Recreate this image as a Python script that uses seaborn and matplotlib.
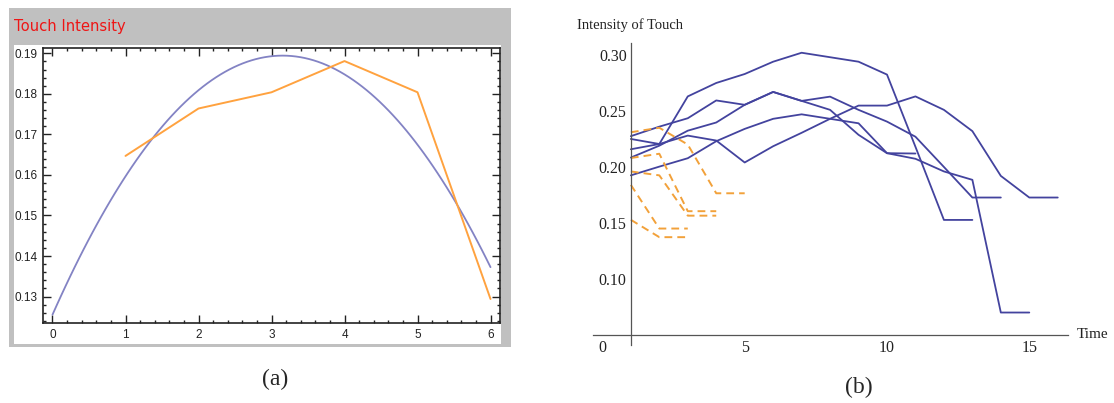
import numpy as np
import matplotlib
matplotlib.use("Agg")
import matplotlib.pyplot as plt
from matplotlib.patches import Rectangle
from matplotlib.ticker import MultipleLocator, FixedLocator, FormatStrFormatter
import seaborn as sns

# ---------------- data ----------------
# panel (a): averaged touch intensity per time step
a_time = [1, 2, 3, 4, 5, 6]
a_intensity = [0.1647, 0.1764, 0.1804, 0.1881, 0.1804, 0.1294]

# panel (b): individual touches (solid) – values at time 1, 2, 3, ...
blue_1 = [0.2084, 0.2190, 0.2324, 0.2397, 0.2555, 0.2670, 0.2590, 0.2510, 0.2287, 0.2123, 0.2120]
blue_2 = [0.2158, 0.2205, 0.2630, 0.2750, 0.2830, 0.2940, 0.3020, 0.2980, 0.2940, 0.2825, 0.2180,
          0.1527, 0.1527]
blue_3 = [0.2275, 0.2360, 0.2435, 0.2594, 0.2555, 0.2670, 0.2590, 0.2628, 0.2510, 0.2405, 0.2270,
          0.2000, 0.1727, 0.1727]
blue_4 = [0.1925, 0.2003, 0.2078, 0.2230, 0.2340, 0.2430, 0.2470, 0.2430, 0.2390, 0.2123, 0.2073,
          0.1960, 0.1885, 0.0700, 0.0700]
blue_5 = [0.2250, 0.2205, 0.2280, 0.2236, 0.2040, 0.2185, 0.2305, 0.2430, 0.2548, 0.2548, 0.2630,
          0.2510, 0.2320, 0.1920, 0.1727, 0.1727]
# panel (b): short touches (dashed)
orange_1 = [0.2310, 0.2350, 0.2200, 0.1765, 0.1765]
orange_2 = [0.2080, 0.2118, 0.1605, 0.1605]
orange_3 = [0.1960, 0.1925, 0.1565, 0.1565]
orange_4 = [0.1840, 0.1450, 0.1450]
orange_5 = [0.1528, 0.1373, 0.1373]

b_xticks = [0, 5, 10, 15]
b_yticks = [0.10, 0.15, 0.20, 0.25, 0.30]

# ---------------- style ----------------
sns.set_style("white")
plt.rcParams["font.family"] = ["DejaVu Sans"]

W, H = 1114, 403
fig = plt.figure(figsize=(W / 100, H / 100), dpi=100)


def fx(px):
    return px / W


def fy(py):
    return 1 - py / H


# ---------------- panel (a) ----------------
fig.patches.append(Rectangle((fx(8.9), fy(347)), fx(511) - fx(8.9), fy(8.3) - fy(347),
                             transform=fig.transFigure, facecolor="#c0c0c0",
                             edgecolor="none", zorder=-10))
fig.patches.append(Rectangle((fx(14.2), fy(344)), fx(500.7) - fx(14.2), fy(45) - fy(344),
                             transform=fig.transFigure, facecolor="white",
                             edgecolor="none", zorder=-9))

ax1 = fig.add_axes([fx(43.3), fy(323.3), fx(500) - fx(43.3), fy(47.7) - fy(323.3)])
ax1.set_xlim(0, 6)
sns.regplot(x=a_time, y=a_intensity, order=2, ci=None, scatter=False, truncate=False,
            ax=ax1, color="#8383C4", line_kws=dict(lw=1.3))
sns.lineplot(x=a_time, y=a_intensity, ax=ax1, color="#FFA23F", lw=1.4, estimator=None)
ax1.set_xlim(-0.126, 6.13)
ax1.set_ylim(0.1234, 0.1914)
ax1.xaxis.set_major_locator(MultipleLocator(1))
ax1.xaxis.set_minor_locator(MultipleLocator(0.2))
ax1.yaxis.set_major_locator(MultipleLocator(0.01))
ax1.yaxis.set_minor_locator(MultipleLocator(0.002))
ax1.yaxis.set_major_formatter(FormatStrFormatter("%.2f"))
ax1.tick_params(which="both", direction="in", top=True, right=True, bottom=True, left=True,
                color="#222222", width=1.0, labelsize=8.5, labelcolor="#222222")
ax1.tick_params(which="major", length=5.5, pad=4)
ax1.tick_params(which="minor", length=2.5)
for lab in ax1.get_xticklabels() + ax1.get_yticklabels():
    lab.set_family("Liberation Sans")
for sp in ax1.spines.values():
    sp.set_visible(True)
    sp.set_color("#222222")
    sp.set_linewidth(1.2)
ax1.set_xlabel("")
ax1.set_ylabel("")

fig.text(fx(14.3), fy(26), "Touch Intensity", color="#EE1515", fontsize=10.6,
         family="DejaVu Sans", ha="left", va="center")
fig.text(fx(275), fy(379), "(a)", fontsize=17, family="Liberation Serif",
         ha="center", va="center")

# ---------------- panel (b) ----------------
ax2 = fig.add_axes([fx(593), fy(345), fx(1068) - fx(593), fy(43) - fy(345)])
ax2.set_facecolor("none")
BLUE = "#43439E"
ORANGE = "#F2A13A"
for series in [blue_1, blue_2, blue_3, blue_4, blue_5]:
    t = np.arange(1, len(series) + 1)
    sns.lineplot(x=t, y=series, ax=ax2, color=BLUE, lw=1.3, estimator=None)
for series in [orange_1, orange_2, orange_3, orange_4, orange_5]:
    t = np.arange(1, len(series) + 1)
    sns.lineplot(x=t, y=series, ax=ax2, color=ORANGE, lw=1.4, estimator=None,
                 linestyle=(0, (4, 2.6)))

ax2.set_xlim(-0.33, 16.36)
ax2.set_ylim(0.041, 0.3107)
for s in ["top", "right"]:
    ax2.spines[s].set_visible(False)
ax2.spines["left"].set_position(("data", 1))
ax2.spines["bottom"].set_position(("data", 0.05))
for s in ["left", "bottom"]:
    ax2.spines[s].set_color("#555555")
    ax2.spines[s].set_linewidth(0.9)
ax2.xaxis.set_major_locator(FixedLocator(b_xticks))
ax2.xaxis.set_minor_locator(MultipleLocator(1))
ax2.yaxis.set_major_locator(FixedLocator(b_yticks))
ax2.yaxis.set_minor_locator(MultipleLocator(0.01))
ax2.yaxis.set_major_formatter(FormatStrFormatter("%.2f"))
ax2.tick_params(which="both", direction="in", color="#555555", width=0.8,
                labelsize=11.5, labelcolor="#222222")
ax2.tick_params(axis="y", which="major", length=5, pad=3)
ax2.tick_params(axis="y", which="minor", length=3)
ax2.tick_params(axis="x", which="major", length=4, pad=4)
ax2.tick_params(axis="x", which="minor", length=2.5)
for lab in ax2.get_xticklabels() + ax2.get_yticklabels():
    lab.set_family("Liberation Serif")
ax2.set_xlabel("")
ax2.set_ylabel("")

fig.text(fx(577), fy(25), "Intensity of Touch", fontsize=10.5, family="Liberation Serif",
         ha="left", va="center", color="#222222")
fig.text(fx(1077), fy(334), "Time", fontsize=11, family="Liberation Serif",
         ha="left", va="center", color="#222222")
fig.text(fx(859), fy(387), "(b)", fontsize=17, family="Liberation Serif",
         ha="center", va="center")

fig.savefig("out.png", dpi=100, facecolor="white")
